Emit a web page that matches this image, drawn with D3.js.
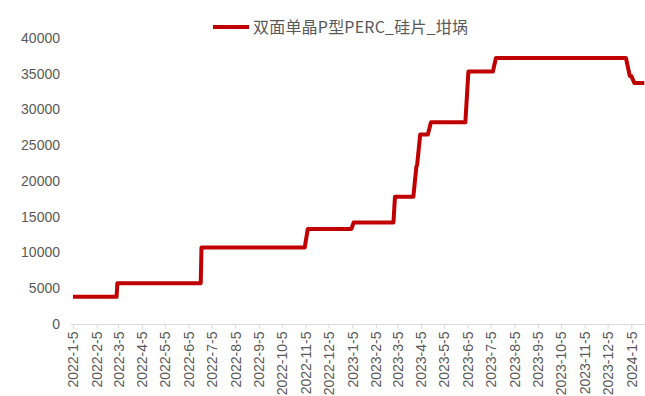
<!DOCTYPE html>
<html><head><meta charset="utf-8">
<script src="https://cdn.jsdelivr.net/npm/d3@7"></script>
<style>
html,body{margin:0;padding:0;background:#fff;}
svg{display:block;}
</style></head>
<body>
<svg id="chart" width="645" height="396"></svg>
<script>
// ---- data ----
const seriesName = "双面单晶P型PERC_硅片_坩埚";
const dates = [
  "2022-01-05","2022-03-03","2022-03-04","2022-06-21","2022-06-22",
  "2022-11-04","2022-11-08","2023-01-04","2023-01-07","2023-02-28",
  "2023-03-02","2023-03-26","2023-03-30","2023-03-31","2023-04-04",
  "2023-04-14","2023-04-18","2023-06-02","2023-06-06","2023-07-08",
  "2023-07-12","2023-12-29","2024-01-03","2024-01-05","2024-01-09",
  "2024-01-22"
];
const values = [
  3800,3800,5700,5700,10700,
  10700,13300,13300,14200,14200,
  17800,17800,22000,22300,26500,
  26500,28200,28200,35300,35300,
  37200,37200,34700,34700,33700,
  33700
];
const yTicks = [0,5000,10000,15000,20000,25000,30000,35000,40000];
const xTickLabels = [
  "2022-1-5","2022-2-5","2022-3-5","2022-4-5","2022-5-5","2022-6-5","2022-7-5",
  "2022-8-5","2022-9-5","2022-10-5","2022-11-5","2022-12-5","2023-1-5","2023-2-5",
  "2023-3-5","2023-4-5","2023-5-5","2023-6-5","2023-7-5","2023-8-5","2023-9-5",
  "2023-10-5","2023-11-5","2023-12-5","2024-1-5"
];

// ---- drawing ----
const parse = d3.timeParse("%Y-%m-%d");
const parseTick = d3.timeParse("%Y-%-m-%-d");
const data = dates.map((d,i)=>({date:parse(d), value:values[i]}));
const tickDates = xTickLabels.map(parseTick);

const svg = d3.select("#chart");
const textColor = "#595959";
const font = "'Liberation Sans', Arial, sans-serif";

const x = d3.scaleTime()
  .domain([parse("2022-01-05"), parse("2024-01-05")])
  .range([73, 631.3]);
const y = d3.scaleLinear().domain([0,40000]).range([324,38]);

// y axis labels (no line)
const yAxis = d3.axisLeft(y).tickValues(yTicks).tickSize(0).tickPadding(0).tickFormat(d3.format("d"));
const gy = svg.append("g").attr("transform","translate(60,0)").call(yAxis);
gy.select(".domain").remove();
gy.selectAll("text").attr("fill",textColor).style("font-family",font).style("font-size","14px");

// x axis
const xAxis = d3.axisBottom(x).tickValues(tickDates).tickSize(4).tickSizeOuter(0)
  .tickFormat((d,i)=>xTickLabels[i]);
const gx = svg.append("g").attr("transform","translate(0,324.5)").call(xAxis);
gx.select(".domain").remove();
gx.append("line").attr("x1",71).attr("x2",645).attr("y1",0).attr("y2",0)
  .attr("stroke","#d9d9d9").attr("stroke-width",1);
gx.selectAll(".tick line").attr("stroke","#d9d9d9");
gx.selectAll("text")
  .attr("fill",textColor)
  .style("font-family",font).style("font-size","14px")
  .attr("transform","rotate(-90)")
  .attr("text-anchor","end")
  .attr("x",-7).attr("y",0).attr("dy","0.35em");

// line
const line = d3.line().x(d=>x(d.date)).y(d=>y(d.value));
svg.append("path").datum(data)
  .attr("d",line)
  .attr("fill","none")
  .attr("stroke","#C00000")
  .attr("stroke-width",4)
  .attr("stroke-linejoin","round");

// legend
const lg = svg.append("g");
lg.append("line").attr("x1",213).attr("x2",249).attr("y1",27).attr("y2",27)
  .attr("stroke","#C00000").attr("stroke-width",4);
lg.append("text").attr("x",253).attr("y",27).attr("dy","0.35em")
  .attr("fill",textColor)
  .style("font-family","'Noto Sans CJK SC', 'Liberation Sans', sans-serif")
  .style("font-size","16px")
  .style("letter-spacing","0.2px")
  .text(seriesName);
</script>
</body></html>
